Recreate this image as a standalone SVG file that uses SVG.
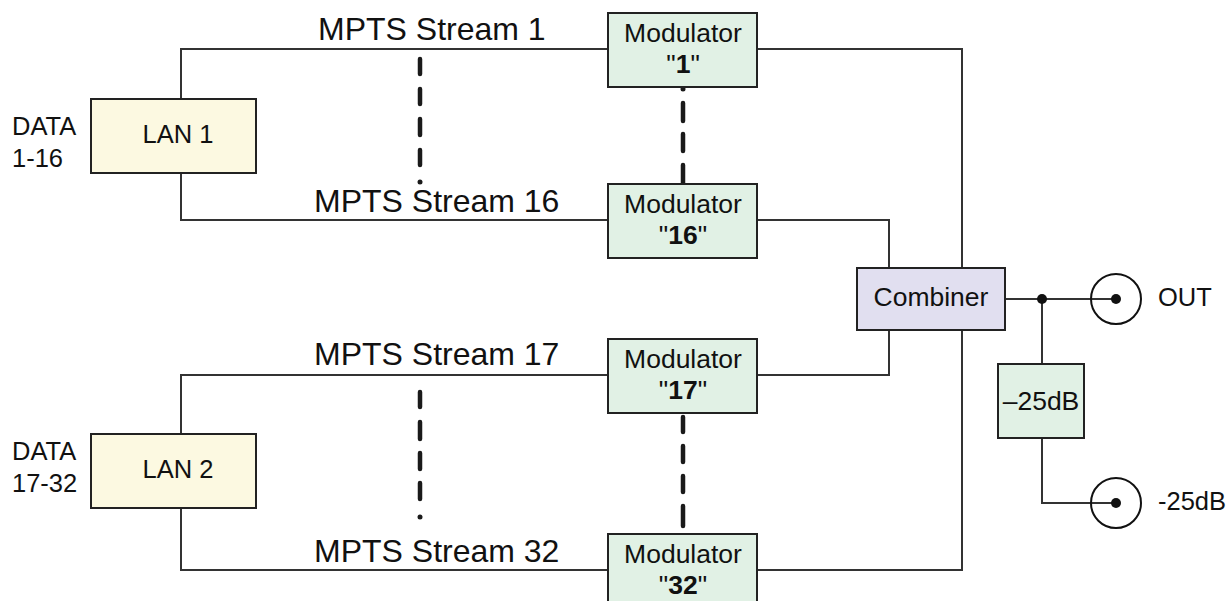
<svg xmlns="http://www.w3.org/2000/svg" width="1229" height="601" viewBox="0 0 1229 601">
<style>
text{font-family:"Liberation Sans",Arial,sans-serif;fill:#111}
.lbl{font-size:32px}
.t{font-size:25.5px}
.m{font-size:26.5px}
.box{stroke:#222;stroke-width:2}
.lan{fill:#fcf9e1}
.mod{fill:#e1f1e5}
.comb{fill:#e1dff0}
.wire{fill:none;stroke:#333;stroke-width:2}
.dash{stroke:#1a1a1a;stroke-width:4.5;stroke-linecap:round;fill:none}
.b{font-weight:bold}
</style>
<rect width="1229" height="601" fill="#fff"/>
<g id="connectors">
<path class="wire" d="M181 99V49H608M757 49H962V268M962 330V570H757"/>
<path class="wire" d="M181 173V220H608M757 220H889V268M889 330V375H757"/>
<path class="wire" d="M181 434V375H608M181 508V570H608"/>
<path class="wire" d="M1005 299H1116M1042 299V364M1042 438V503H1116"/>
<circle cx="1042" cy="299" r="5" fill="#111"/>
<path class="dash" d="M420 59V74M420 89V104M420 119V135M420 150V165M683 103V121M683 134V151M683 165V183M420 392V407M420 422V439M420 453V469M420 483V499M683 417V432M683 446V462M683 476V492M683 506V526"/>
<circle cx="420" cy="182" r="2.5" fill="#1a1a1a"/>
<circle cx="683" cy="89" r="2.5" fill="#1a1a1a"/>
<circle cx="420" cy="517" r="2.5" fill="#1a1a1a"/>
</g>
<g id="labels">
<text class="lbl" x="318" y="40">MPTS Stream 1</text>
<text class="lbl" x="314" y="212">MPTS Stream 16</text>
<text class="lbl" x="314" y="365">MPTS Stream 17</text>
<text class="lbl" x="314" y="562">MPTS Stream 32</text>
<text class="t" x="12" y="135">DATA</text>
<text class="t" x="12" y="167">1-16</text>
<text class="t" x="12" y="460">DATA</text>
<text class="t" x="12" y="492">17-32</text>
</g>
<g id="lan1"><rect class="box lan" x="91" y="99" width="165" height="74"/><text class="t" x="178" y="143" text-anchor="middle">LAN 1</text></g>
<g id="lan2"><rect class="box lan" x="91" y="434" width="165" height="74"/><text class="t" x="178" y="478" text-anchor="middle">LAN 2</text></g>
<g id="mod1"><rect class="box mod" x="608" y="13" width="149" height="74"/><text class="m" x="683" y="42" text-anchor="middle">Modulator</text><text class="m" x="683" y="73" text-anchor="middle">"<tspan class="b">1</tspan>"</text></g>
<g id="mod16"><rect class="box mod" x="608" y="184" width="149" height="74"/><text class="m" x="683" y="213" text-anchor="middle">Modulator</text><text class="m" x="683" y="244" text-anchor="middle">"<tspan class="b">16</tspan>"</text></g>
<g id="mod17"><rect class="box mod" x="608" y="339" width="149" height="74"/><text class="m" x="683" y="368" text-anchor="middle">Modulator</text><text class="m" x="683" y="399" text-anchor="middle">"<tspan class="b">17</tspan>"</text></g>
<g id="mod32"><rect class="box mod" x="608" y="534" width="149" height="74"/><text class="m" x="683" y="563" text-anchor="middle">Modulator</text><text class="m" x="683" y="594" text-anchor="middle">"<tspan class="b">32</tspan>"</text></g>
<g id="combiner"><rect class="box comb" x="857" y="268" width="148" height="62"/><text class="m" x="931" y="306" text-anchor="middle">Combiner</text></g>
<g id="atten"><rect class="box mod" x="998" y="364" width="86" height="74"/><text class="m" x="1041" y="410" text-anchor="middle">–25dB</text></g>
<g id="out"><circle cx="1116" cy="299" r="25" fill="none" stroke="#111" stroke-width="2"/><circle cx="1116" cy="299" r="5" fill="#111"/><text class="t" x="1158" y="306">OUT</text></g>
<g id="out25"><circle cx="1116" cy="503" r="25" fill="none" stroke="#111" stroke-width="2"/><circle cx="1116" cy="503" r="5" fill="#111"/><text class="t" x="1158" y="510">-25dB</text></g>
</svg>
